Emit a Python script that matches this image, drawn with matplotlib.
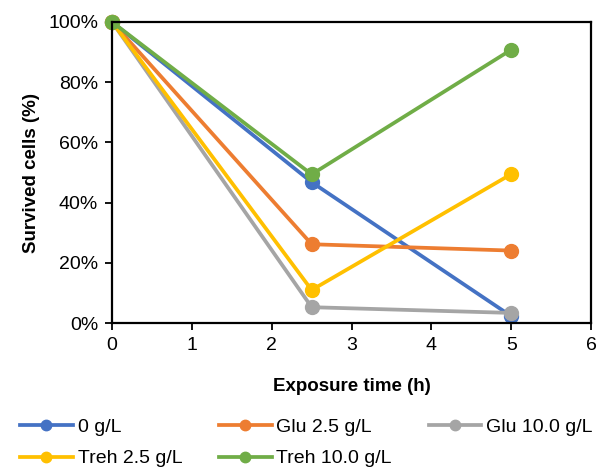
import matplotlib
matplotlib.use("Agg")
import matplotlib.pyplot as plt
from matplotlib.ticker import PercentFormatter

plt.rcParams['font.family'] = ['Liberation Sans', 'DejaVu Sans']

hours = [0, 2.5, 5]
labels = ["0 g/L", "Glu 2.5 g/L", "Glu 10.0 g/L", "Treh 2.5 g/L", "Treh 10.0 g/L"]
survival = [
    [100, 46.8, 2.3],
    [100, 26.2, 24.1],
    [100, 5.3, 3.4],
    [100, 11.0, 49.5],
    [100, 49.4, 90.8],
]
colors = ["#4472C4", "#ED7D31", "#A5A5A5", "#FFC000", "#70AD47"]

fig = plt.figure(figsize=(5.99, 4.67), dpi=100)
ax = fig.add_axes([0.187, 0.308, 0.800, 0.645])

lines = []
for lab, vals, c in zip(labels, survival, colors):
    ln, = ax.plot(hours, vals, color=c, lw=2.7, marker="o", markersize=10,
                  label=lab, clip_on=False)
    lines.append(ln)

ax.set_xlim(0, 6)
ax.set_ylim(0, 100)
ax.set_yticks(range(0, 101, 20))
ax.yaxis.set_major_formatter(PercentFormatter(decimals=0))
ax.tick_params(labelsize=14, direction="out", length=5, width=1.3, pad=5)
for s in ax.spines.values():
    s.set_linewidth(1.6)

ax.set_xlabel("Exposure time (h)", fontsize=13.5, fontweight="bold", labelpad=17)
ax.set_ylabel("Survived cells (%)", fontsize=13.5, fontweight="bold", labelpad=6)

# row-major order in the legend
order = [0, 3, 1, 4, 2]
fig.legend([lines[i] for i in order], [labels[i] for i in order],
           loc="lower left", bbox_to_anchor=(0.011, -0.03), ncol=3,
           frameon=False, fontsize=14, handlelength=2.7, markerscale=0.75,
           columnspacing=1.9, handletextpad=0.25, labelspacing=0.7,
           borderpad=0.2)

fig.savefig("out.png", dpi=100)
